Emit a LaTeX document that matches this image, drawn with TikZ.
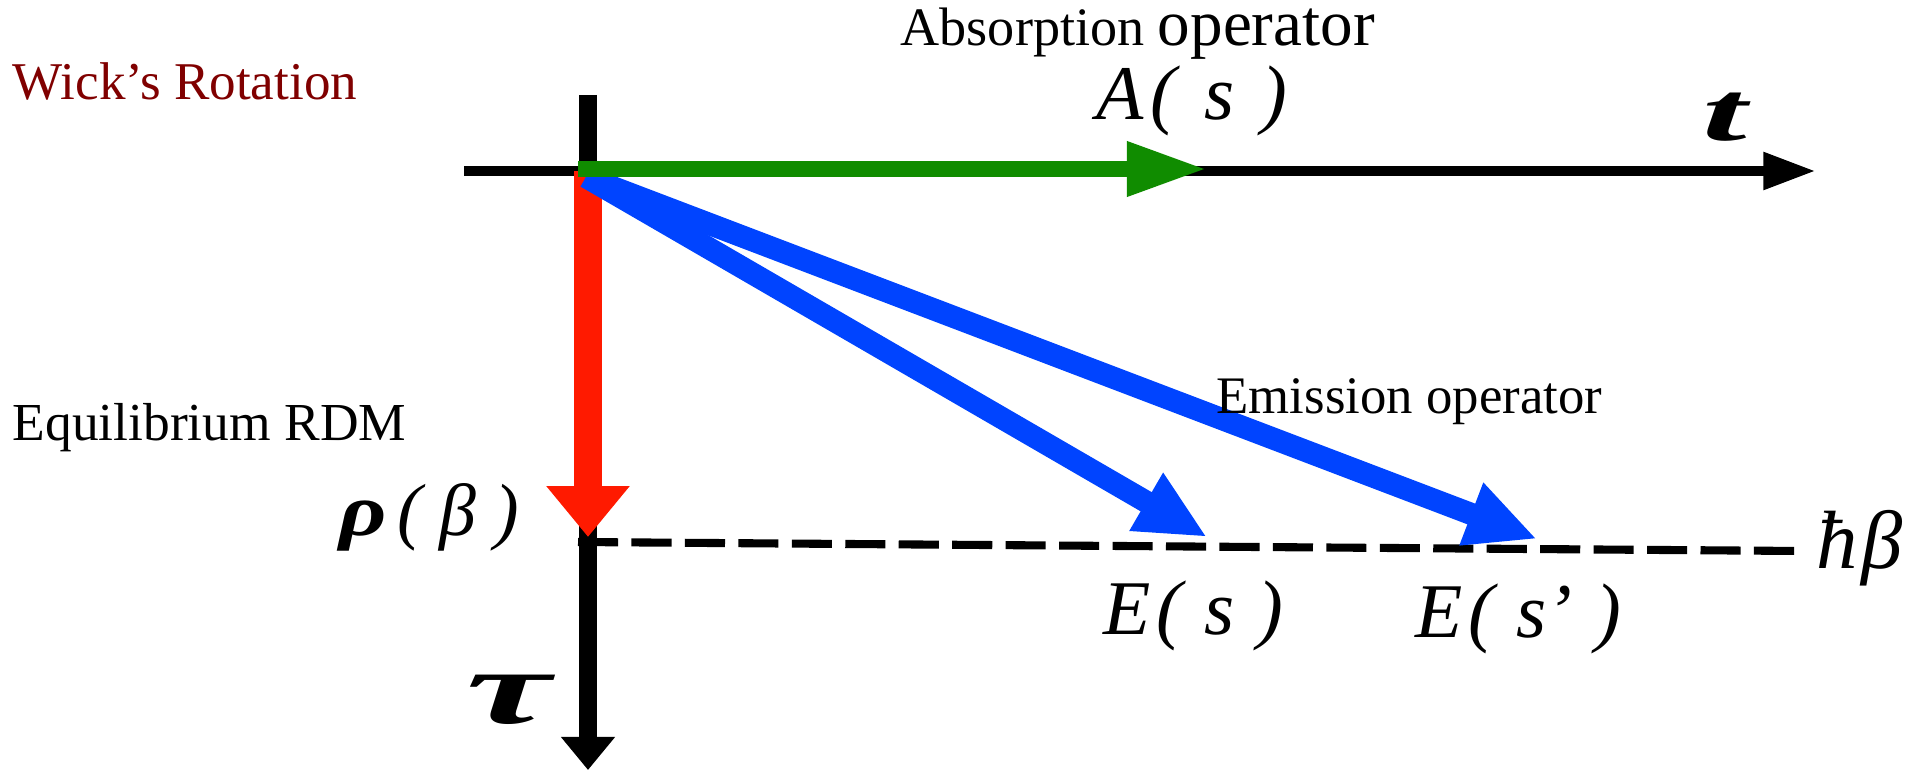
\documentclass[tikz,border=0pt]{standalone}
\usepackage{fontspec}
\setmainfont{Liberation Serif}
\usetikzlibrary{arrows.meta}
\definecolor{wickred}{RGB}{128,0,0}
\definecolor{absgreen}{RGB}{16,140,0}
\definecolor{rdmred}{RGB}{255,26,0}
\definecolor{emblue}{RGB}{0,68,255}
\begin{document}
\begin{tikzpicture}[x=0.01cm, y=-0.01cm,
    lbl/.style={inner sep=0pt, anchor=base west},
    mlbl/.style={inner sep=0pt, anchor=base west, font=\fontsize{22}{26}\selectfont\itshape},
    emitarrow/.style={emblue, line width=6.3pt, -{Triangle[length=20pt, width=17.6pt]}}]
\useasboundingbox (0,0) rectangle (1913,770);
\coordinate (O) at (588,171);
\coordinate (tStart) at (464,171);
\coordinate (tEnd) at (1816,171);
\coordinate (tauTop) at (588,95);
\coordinate (tauEnd) at (588,770);
\coordinate (betaStart) at (578,542);
\coordinate (betaEnd) at (1802,551);
\coordinate (Atip) at (1207,169);
\coordinate (rhoTip) at (588,537);
\coordinate (Estip) at (1207,537);
\coordinate (Esptip) at (1537,539);
\draw[line width=3.1pt, -{Triangle[length=15pt, width=10pt]}] (tStart) -- (tEnd);
\draw[line width=5.1pt, -{Triangle[length=9.4pt, width=14.8pt]}] (tauTop) -- (tauEnd);
\draw[line width=2.3pt, dash pattern=on 11.4pt off 3.8pt] (betaStart) -- (betaEnd);
\draw[rdmred, line width=7.7pt, -{Triangle[length=14.5pt, width=22.8pt]}] (O) -- (rhoTip);
\draw[emitarrow] ([shift={(-2,6)}]O) -- (Estip);
\draw[emitarrow] ([shift={(-2,6)}]O) -- (Esptip);
\draw[absgreen, line width=4.55pt, -{Triangle[length=22.8pt, width=14.5pt]}] ([shift={(-10,-2)}]O) -- (Atip);
\node[lbl, text=wickred, font=\fontsize{15.1}{18}\selectfont] (wick) at (12,100) {Wick’s Rotation};
\node[lbl] (absorb) at (900,46) {\fontsize{15.4}{18}\selectfont Absorption \fontsize{18.5}{22}\selectfont operator};
\node[lbl, font=\fontsize{15}{18}\selectfont] (emit) at (1216,413) {Emission operator};
\node[lbl, font=\fontsize{15.2}{18}\selectfont] (equil) at (12,440) {Equilibrium RDM};
\node[mlbl] (Alabel) at (1096,120) {A\kern2pt(\kern8pt s\kern7.5pt)};
\node[mlbl] (Eslabel) at (1103,634) {E\kern1.5pt(\kern6.5pt s\kern6.5pt)};
\node[mlbl] (Esplabel) at (1415,637) {E\kern1.5pt(\kern6.5pt s’\kern6.5pt)};
\node[mlbl, font=\fontsize{21}{25}\selectfont\itshape] (rholabel) at (339,535) {{\bfseries\scalebox{1.25}[1]{ρ}}\kern3pt(\kern5pt β\kern5pt)};
\node[mlbl, font=\fontsize{30}{34}\selectfont\bfseries\itshape] (taulabel) at (466,723) {\scalebox{1.8}[1]{τ}};
\node[mlbl, font=\fontsize{24}{28}\selectfont\bfseries\itshape] (tlabel) at (1702,140) {\scalebox{1.9}[1]{t}};
\node[mlbl, font=\fontsize{23.5}{27}\selectfont\itshape] (hbarlabel) at (1816,568) {ħ\kern1pt β};
\end{tikzpicture}
\end{document}
